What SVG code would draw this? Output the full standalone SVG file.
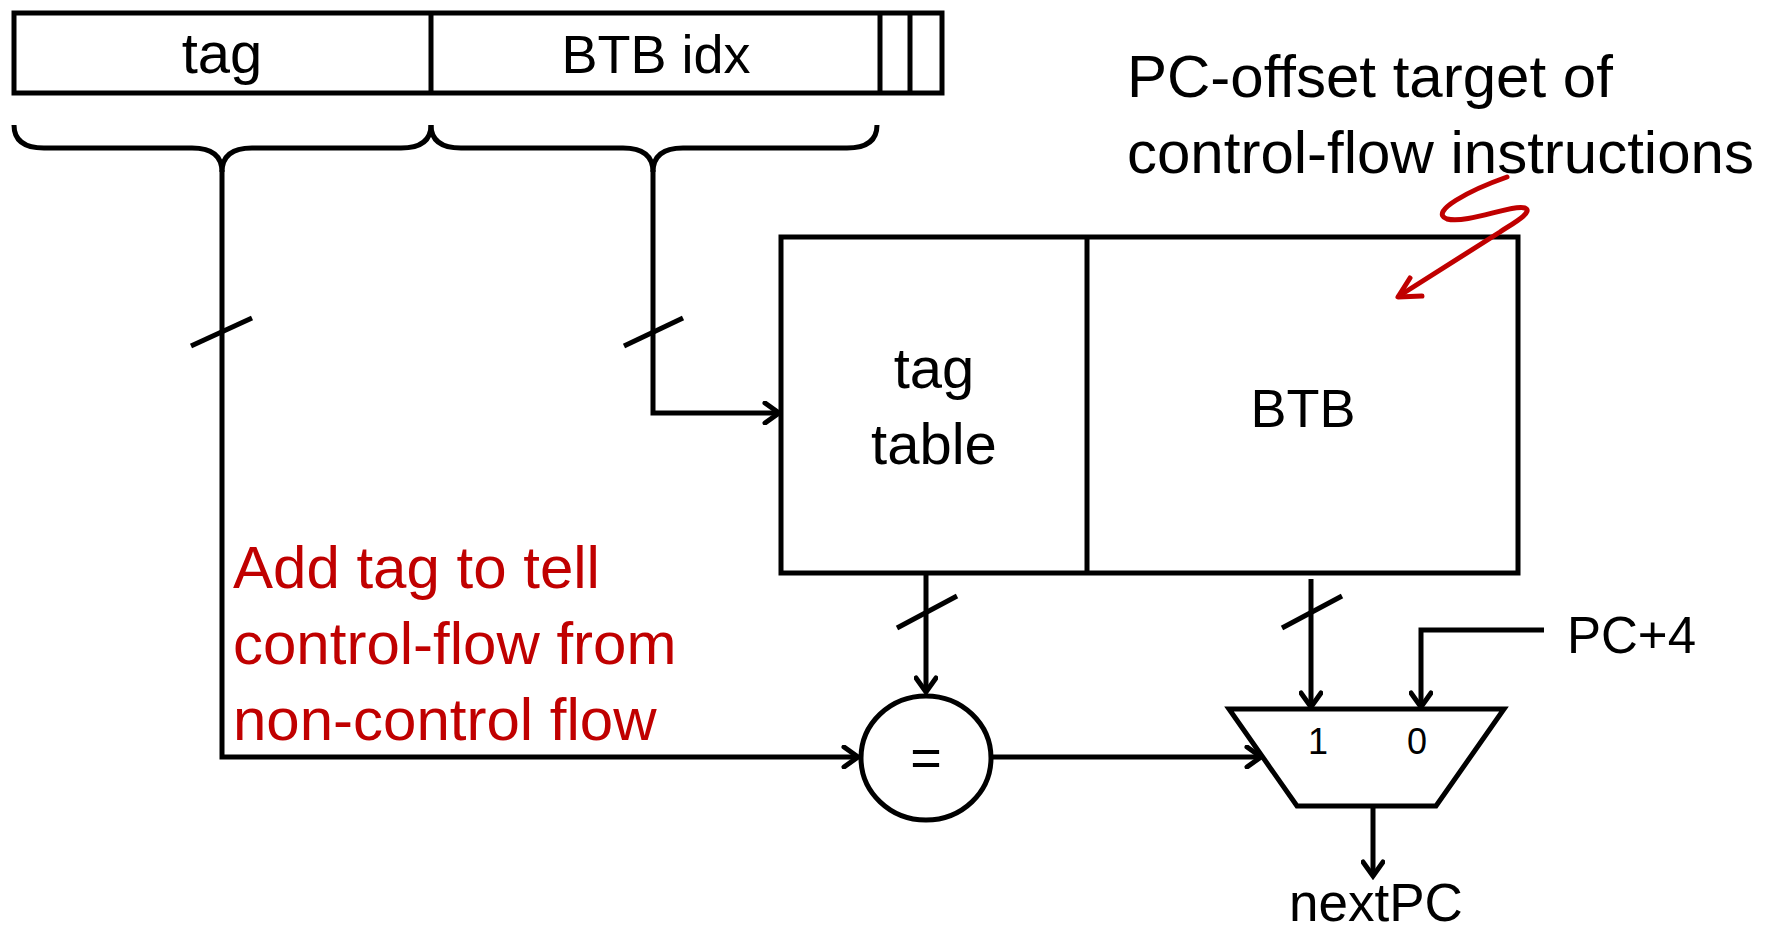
<svg xmlns="http://www.w3.org/2000/svg" width="1780" height="936" viewBox="0 0 1780 936">
<style>
.ln{fill:none;stroke:#000;stroke-width:5;stroke-linejoin:miter}
.bx{fill:#fff;stroke:#000;stroke-width:5}
.t{font-family:"Liberation Sans",Arial,sans-serif;fill:#000}
.r{font-family:"Liberation Sans",Arial,sans-serif;fill:#C00000}
</style>
<defs>
<marker id="arr" viewBox="-18 -12 22 24" refX="0" refY="0" markerWidth="22" markerHeight="24" orient="auto" markerUnits="userSpaceOnUse">
<path d="M-14,-10 L0,0 L-14,10" fill="none" stroke="#000" stroke-width="5" stroke-linecap="round"/>
</marker>
</defs>
<rect width="1780" height="936" fill="#fff"/>
<g id="register">
<rect class="bx" x="14" y="13" width="928" height="80"/>
<line class="ln" x1="431" y1="13" x2="431" y2="93"/>
<line class="ln" x1="880" y1="13" x2="880" y2="93"/>
<line class="ln" x1="910" y1="13" x2="910" y2="93"/>
<text class="t" x="222" y="73" font-size="58" text-anchor="middle">tag</text>
<text class="t" x="656" y="73" font-size="54" text-anchor="middle">BTB idx</text>
</g>
<g id="braces">
<path class="ln" d="M14,125 Q14,148 44,148 L192,148 Q222,148 222,172 Q222,148 252,148 L401,148 Q431,148 431,125"/>
<path class="ln" d="M431,125 Q431,148 461,148 L623,148 Q653,148 653,172 Q653,148 683,148 L847,148 Q877,148 877,125"/>
</g>
<g id="tagtable">
<rect class="bx" x="781" y="237" width="737" height="336"/>
<line class="ln" x1="1087" y1="237" x2="1087" y2="573"/>
<text class="t" x="934" y="388" font-size="58" text-anchor="middle">tag</text>
<text class="t" x="934" y="464" font-size="58" text-anchor="middle">table</text>
<text class="t" x="1303" y="427" font-size="54" text-anchor="middle">BTB</text>
</g>
<g id="compare">
<ellipse class="bx" cx="926" cy="758" rx="65" ry="62"/>
<text class="t" x="926" y="776" font-size="54" text-anchor="middle">=</text>
</g>
<g id="mux">
<polygon class="bx" points="1229,709 1504,709 1436,806 1297,806"/>
<text class="t" x="1318" y="754" font-size="36" text-anchor="middle">1</text>
<text class="t" x="1417" y="754" font-size="36" text-anchor="middle">0</text>
</g>
<g id="labels">
<text class="t" x="1127" y="97" font-size="60">PC-offset target of</text>
<text class="t" x="1127" y="173" font-size="60">control-flow instructions</text>
<text class="t" x="1567" y="653" font-size="51">PC+4</text>
<text class="t" x="1289" y="921" font-size="53">nextPC</text>
<text class="r" x="233" y="588" font-size="60">Add tag to tell</text>
<text class="r" x="233" y="664" font-size="60">control-flow from</text>
<text class="r" x="233" y="740" font-size="60">non-control flow</text>
</g>
<g id="connectors">
<polyline class="ln" points="222,170 222,757 858,757" marker-end="url(#arr)"/>
<polyline class="ln" points="653,170 653,413 779,413" marker-end="url(#arr)"/>
<line class="ln" x1="926" y1="575" x2="926" y2="692" marker-end="url(#arr)"/>
<line class="ln" x1="992" y1="757" x2="1261" y2="757" marker-end="url(#arr)"/>
<line class="ln" x1="1311" y1="579" x2="1311" y2="707" marker-end="url(#arr)"/>
<polyline class="ln" points="1544,630 1421,630 1421,707" marker-end="url(#arr)"/>
<line class="ln" x1="1373" y1="806" x2="1373" y2="876" marker-end="url(#arr)"/>
<line class="ln" x1="191" y1="346" x2="252" y2="318"/>
<line class="ln" x1="624" y1="346" x2="683" y2="318"/>
<line class="ln" x1="897" y1="628" x2="957" y2="596"/>
<line class="ln" x1="1282" y1="628" x2="1342" y2="596"/>
<path d="M1507,177 C1470,190 1428,212 1447,219 C1468,224 1512,204 1525,208 C1534,212 1512,224 1500,232 L1399,296" fill="none" stroke="#C00000" stroke-width="5" stroke-linecap="round"/>
<path d="M1410,278 L1398,297 L1422,296" fill="none" stroke="#C00000" stroke-width="5" stroke-linecap="round" stroke-linejoin="round"/>
</g>
</svg>
